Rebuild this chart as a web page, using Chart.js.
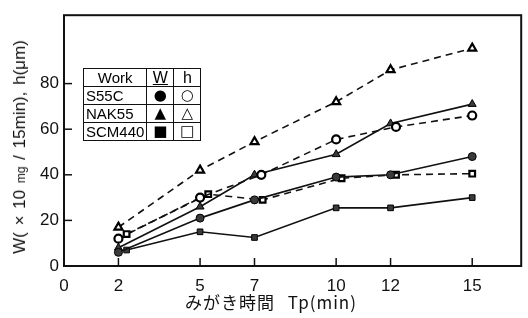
<!DOCTYPE html>
<html>
<head>
<meta charset="utf-8">
<script src="https://cdn.jsdelivr.net/npm/chart.js@4"></script>
<style>
  body { margin: 0; background: #fff; }
  #wrap { position: relative; width: 528px; height: 318px; }
  #ytitle {
    position: absolute; left: 20px; top: 147px;
    transform: translate(-50%, -50%) rotate(-90deg);
    white-space: nowrap; font: 17px "Liberation Sans", sans-serif; color: #111;
    word-spacing: 2px;
  }
  #ytitle .mg { font-size: 12px; }
  #xtitle {
    position: absolute; left: 271px; top: 301px;
    transform: translate(-50%, -50%);
    white-space: nowrap; font: 17px "Noto Sans CJK JP", sans-serif; color: #111;
    letter-spacing: 1px; word-spacing: 8px;
  }
  #legend {
    position: absolute; left: 83px; top: 68px;
    border-collapse: collapse; font: 15px "Liberation Sans", sans-serif; color: #000;
  }
  #legend td { border: 1.5px solid #111; padding: 0 2px; height: 17px; line-height: 15px; }
  #legend td.m { text-align: center; width: 22px; font-family: "DejaVu Sans", sans-serif; font-size: 15px; }
  #legend td.w { width: 58px; }
</style>
</head>
<body>
<div id="wrap">
  <canvas id="chart" width="528" height="318"></canvas>
  <div id="ytitle">W( × 10 <span class="mg">mg</span> / 15min), h(μm)</div>
  <div id="xtitle">みがき時間 Tp(min)</div>
  <table id="legend">
    <tr><td class="w" style="text-align:center">Work</td><td class="m" style="font-family:'Liberation Sans';font-size:16px"><u>W</u></td><td class="m" style="font-family:'Liberation Sans';font-size:16px">h</td></tr>
    <tr><td class="w">S55C</td><td class="m">●</td><td class="m">○</td></tr>
    <tr><td class="w">NAK55</td><td class="m">▲</td><td class="m">△</td></tr>
    <tr><td class="w">SCM440</td><td class="m">■</td><td class="m">□</td></tr>
  </table>
</div>
<script>
// polishing time Tp (min)
const times = [2, 5, 7, 10, 12, 15];
const xTickLabels = [0, 2, 5, 7, 10, 12, 15];
const yTickLabels = [0, 20, 40, 60, 80];

// markers drawn slightly shifted in the original figure
const s55cHX = [2, 5, 7.25, 10, 12.2, 15];
const scmWX = [2.3, 5, 7, 10, 12, 15];
const scmHX = [2.3, 5.3, 7.3, 10.2, 12.2, 15];

const s55cW = [6, 21, 29, 39, 40, 48];
const s55cH = [12, 30, 40, 55.5, 61, 66];
const nak55W = [8, 26, 40, 49, 62.5, 71];
const nak55H = [17, 42, 54.5, 72, 86, 95.5];
const scm440W = [7, 15, 12.5, 25.5, 25.5, 30];
const scm440H = [14, 31.5, 29, 38.5, 40, 40.5];

function pts(xs, ys) {
    return xs.map((x, i) => ({ x: x, y: ys[i] }));
}

function series(label, xs, ys, shape, filled) {
    let r = shape === 'triangle' ? 4.6 : 4;
    return {
        label: label,
        data: pts(xs, ys),
        borderColor: '#111',
        borderWidth: 1.6,
        borderDash: filled ? [] : [7, 5],
        pointStyle: shape,
        pointRadius: r,
        pointBackgroundColor: filled ? '#3a3a3a' : '#fff',
        pointBorderColor: '#000',
        pointBorderWidth: filled ? 1 : 2.2,
        fill: false,
        tension: 0
    };
}

// frame + inward tick marks
const framePlugin = {
    id: 'frame',
    afterDraw(chart) {
        const { ctx, chartArea: a, scales } = chart;
        ctx.save();
        ctx.strokeStyle = '#111';
        ctx.lineWidth = 2;
        ctx.strokeRect(a.left, a.top, a.right - a.left, a.bottom - a.top);
        ctx.lineWidth = 1.5;
        times.forEach(t => {
            const px = scales.x.getPixelForValue(t);
            ctx.beginPath(); ctx.moveTo(px, a.bottom); ctx.lineTo(px, a.bottom - 8); ctx.stroke();
        });
        yTickLabels.slice(1).forEach(v => {
            const py = scales.y.getPixelForValue(v);
            ctx.beginPath(); ctx.moveTo(a.left, py); ctx.lineTo(a.left + 8, py); ctx.stroke();
        });
        ctx.restore();
    }
};

new Chart(document.getElementById('chart'), {
    type: 'line',
    data: {
        datasets: [
            series('S55C W', times, s55cW, 'circle', true),
            series('S55C h', s55cHX, s55cH, 'circle', false),
            series('NAK55 W', times, nak55W, 'triangle', true),
            series('NAK55 h', times, nak55H, 'triangle', false),
            series('SCM440 W', scmWX, scm440W, 'rect', true),
            series('SCM440 h', scmHX, scm440H, 'rect', false)
        ]
    },
    options: {
        responsive: false,
        animation: false,
        layout: { padding: { left: 0, top: 12, right: 5, bottom: 0 } },
        plugins: { legend: { display: false }, tooltip: { enabled: false } },
        scales: {
            x: {
                type: 'linear', min: 0, max: 16.8,
                afterBuildTicks: s => { s.ticks = xTickLabels.map(v => ({ value: v })); },
                afterFit: s => { s.height = 52; },
                grid: { display: false, drawTicks: false },
                border: { display: false },
                ticks: { color: '#111', padding: 10, font: { family: 'Liberation Sans', size: 17 }, maxRotation: 0 }
            },
            y: {
                min: 0, max: 110,
                afterBuildTicks: s => { s.ticks = yTickLabels.map(v => ({ value: v })); },
                afterFit: s => { s.width = 64; },
                grid: { display: false, drawTicks: false },
                border: { display: false },
                ticks: { color: '#111', padding: 5, font: { family: 'Liberation Sans', size: 17 } }
            }
        }
    },
    plugins: [framePlugin]
});
</script>
</body>
</html>
